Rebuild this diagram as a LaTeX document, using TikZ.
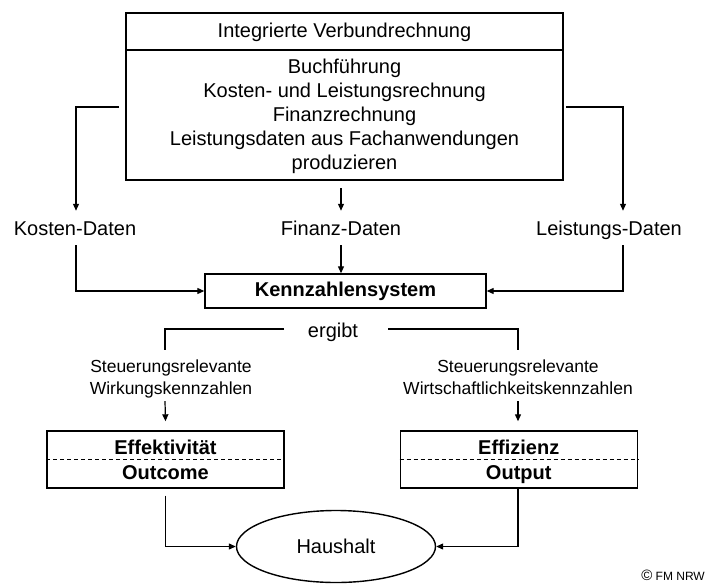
\documentclass[tikz,border=0pt]{standalone}
\usepackage{fontspec}
\setmainfont{Liberation Sans}
\usetikzlibrary{arrows.meta,shapes.geometric}
\begin{document}
\begin{tikzpicture}[x=1pt,y=-1pt,
  txt/.style={inner sep=0pt, font=\fontsize{20}{24}\selectfont, align=center},
  lbl/.style={inner sep=0pt, font=\fontsize{20}{24}\selectfont, text height=14.5pt, text depth=0pt, outer xsep=0pt, outer ysep=10pt},
  small/.style={inner sep=0pt, outer ysep=3pt, font=\fontsize{17.5}{22}\selectfont, align=center},
  bold/.style={inner sep=0pt, font=\fontsize{20}{24}\selectfont\bfseries, text height=14.5pt, text depth=0pt},
  boxed/.style={draw, line width=1.4pt, inner sep=0pt},
  conn/.style={line width=1.2pt},
  arr/.style={conn, -{Triangle[length=7pt,width=6pt]}},
  divider/.style={dash pattern=on 4pt off 3pt, line width=1pt}
]
\useasboundingbox (0,0) rectangle (707,584);

% top box
\node[boxed, minimum width=437pt, minimum height=167pt] (top) at (344.5,96.5) {};
\draw[line width=2pt] (top.west |- 0,50) -- (top.east |- 0,50);
\node[txt] (title) at (344.5,32) {Integrierte Verbundrechnung};
\node[txt] (body) at (344.5,116) {Buchführung\\Kosten- und Leistungsrechnung\\Finanzrechnung\\Leistungsdaten aus Fachanwendungen\\produzieren};

% data labels
\node[lbl] (kd) at (75,228) {Kosten-Daten};
\node[lbl] (fd) at (341,228) {Finanz-Daten};
\node[lbl] (ld) at (609,228) {Leistungs-Daten};

\coordinate (tl) at (119,107);
\coordinate (tr) at (566,107);
\coordinate (tc) at (341,188);
\draw[arr] (tl) -| ([xshift=1pt]kd.north);
\draw[arr] (tr) -| ([xshift=14pt]ld.north);
\draw[arr] (tc) -- (fd.north);

% Kennzahlensystem
\node[boxed, minimum width=281pt, minimum height=34pt, font=\fontsize{20}{24}\selectfont\bfseries] (kz) at (345.5,291) {Kennzahlensystem};
\draw[arr] ([xshift=1pt]kd.south) |- (kz.west);
\draw[arr] (fd.south) -- (fd.south |- kz.north);
\draw[arr] ([xshift=14pt]ld.south) |- (kz.east);

% ergibt
\node[txt] (erg) at (333,332) {ergibt};
\coordinate (el) at (284,329);
\coordinate (er) at (388,329);
\coordinate (bl) at (165,350);
\coordinate (br) at (518,350);
\draw[conn] (el) -| (bl);
\draw[conn] (er) -| (br);

\node[small] (sl) at (171,379) {Steuerungsrelevante\\Wirkungskennzahlen};
\node[small] (sr) at (518,377.2) {Steuerungsrelevante\\Wirtschaftlichkeitskennzahlen};

% result boxes
\node[boxed, minimum width=237pt, minimum height=57pt] (eff) at (165.5,459.5) {};
\draw[divider] (eff.west) -- (eff.east);
\node[bold] (effa) at (165.5,447) {Effektivität};
\node[bold] (effb) at (165.5,472) {Outcome};

\node[boxed, minimum width=237pt, minimum height=57pt] (efz) at (518.75,459.5) {};
\draw[divider] (efz.west) -- (efz.east);
\node[bold] (efza) at (518.75,447) {Effizienz};
\node[bold] (efzb) at (518.75,472) {Output};

\draw[arr] (sl.south -| bl) -- ([yshift=9pt]eff.north);
\draw[arr] (sl.south -| br) -- ([yshift=9pt]efz.north -| br);

% Haushalt
\node[draw, ellipse, line width=1.4pt, minimum width=199pt, minimum height=72pt, inner sep=0pt, font=\fontsize{20}{24}\selectfont] (hh) at (336,546.5) {Haushalt};
\draw[arr] ([yshift=-7pt]eff.south) |- (hh.west);
\draw[arr] (efz.south -| br) |- (hh.east);

% copyright
\node[anchor=east, inner sep=0pt, font=\fontsize{12}{12}\selectfont] (cr) at (705,575) {{\fontsize{15}{15}\selectfont ©} FM NRW};
\end{tikzpicture}
\end{document}
